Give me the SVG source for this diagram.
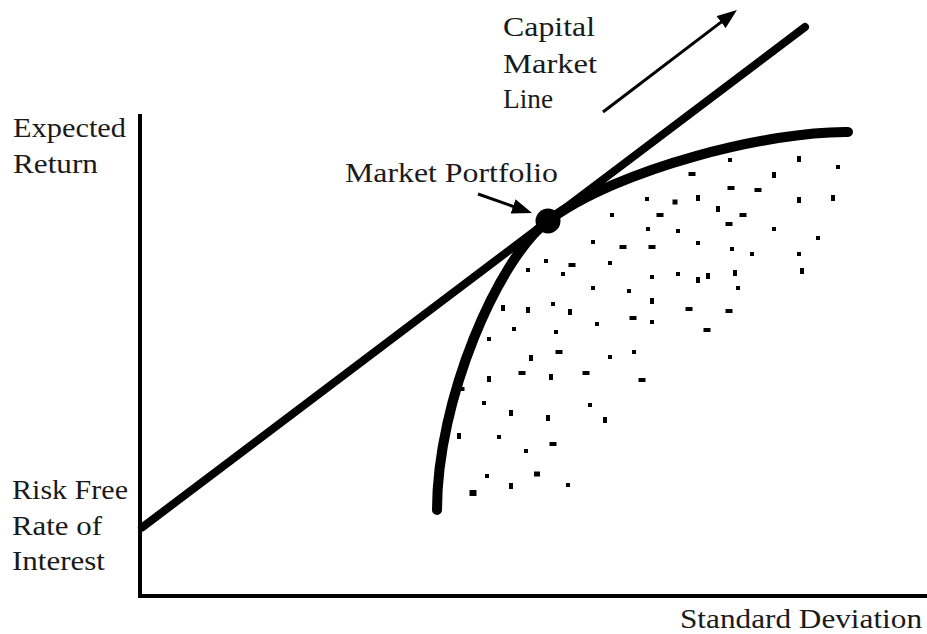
<svg xmlns="http://www.w3.org/2000/svg" width="927" height="634" viewBox="0 0 927 634">
<style>
.lbl{font-family:"Liberation Serif","DejaVu Serif",serif;font-size:27px;fill:#1a1a1a}
.ax{stroke:#000;stroke-width:4;fill:none}
.thick{stroke:#000;fill:none}
.arr{stroke:#000;stroke-width:3;fill:none}
.d{fill:#000}
</style>
<defs>
<marker id="ah" viewBox="0 0 20 15" refX="12" refY="7.5" markerWidth="20" markerHeight="15" markerUnits="userSpaceOnUse" orient="auto">
<path d="M0,0 L20,7.5 L0,15 z" fill="#000"/>
</marker>
</defs>
<rect width="927" height="634" fill="#fff"/>
<g id="axes">
<line class="ax" x1="140" y1="114" x2="140" y2="596"/>
<line class="ax" x1="138" y1="596" x2="927" y2="596"/>
</g>
<g id="connectors">
<line id="cml" class="thick" stroke-width="8" stroke-linecap="round" x1="142" y1="527.5" x2="805" y2="27"/>
<path id="frontier" class="thick" stroke-width="10" stroke-linecap="round" d="M437,510 C437,400 498,258.7 548,221 C618,168.2 770,131 848,132"/>
<line id="cml-arrow" class="arr" x1="603" y1="112" x2="730.6" y2="14.9" marker-end="url(#ah)"/>
<line id="mp-arrow" class="arr" x1="478" y1="194" x2="524.4" y2="210.3" marker-end="url(#ah)"/>
</g>
<g id="market-portfolio">
<circle cx="548" cy="221" r="12.5" fill="#000"/>
<text class="lbl" x="345" y="182" textLength="213" lengthAdjust="spacingAndGlyphs">Market Portfolio</text>
</g>
<g id="cml-label">
<text class="lbl" x="503" y="36" textLength="92" lengthAdjust="spacingAndGlyphs">Capital</text>
<text class="lbl" x="503" y="73" textLength="94" lengthAdjust="spacingAndGlyphs">Market</text>
<text class="lbl" x="503" y="108" textLength="50" lengthAdjust="spacingAndGlyphs">Line</text>
</g>
<g id="y-label">
<text class="lbl" x="13" y="137" textLength="113" lengthAdjust="spacingAndGlyphs">Expected</text>
<text class="lbl" x="13" y="173" textLength="85" lengthAdjust="spacingAndGlyphs">Return</text>
</g>
<g id="rf-label">
<text class="lbl" x="12" y="499" textLength="116" lengthAdjust="spacingAndGlyphs">Risk Free</text>
<text class="lbl" x="12" y="535" textLength="90" lengthAdjust="spacingAndGlyphs">Rate of</text>
<text class="lbl" x="12" y="570" textLength="93" lengthAdjust="spacingAndGlyphs">Interest</text>
</g>
<g id="x-label">
<text class="lbl" x="680" y="628" textLength="242" lengthAdjust="spacingAndGlyphs">Standard Deviation</text>
</g>
<g id="portfolios" class="d">
<rect x="728" y="158" width="4" height="4"/>
<rect x="797" y="156" width="4" height="6"/>
<rect x="836" y="165" width="4" height="4"/>
<rect x="688.5" y="172" width="7" height="4"/>
<rect x="772" y="172" width="4" height="6"/>
<rect x="727.5" y="186" width="7" height="4"/>
<rect x="754.5" y="188" width="7" height="4"/>
<rect x="645" y="197" width="4" height="4"/>
<rect x="672.5" y="199.5" width="5" height="5"/>
<rect x="696" y="195" width="4" height="6"/>
<rect x="797" y="197" width="4" height="6"/>
<rect x="831" y="195" width="4" height="6"/>
<rect x="716" y="206" width="4" height="6"/>
<rect x="656.5" y="213" width="7" height="4"/>
<rect x="739.5" y="213" width="7" height="4"/>
<rect x="725.5" y="222" width="7" height="4"/>
<rect x="646" y="227" width="4" height="4"/>
<rect x="676" y="229" width="4" height="4"/>
<rect x="772" y="227" width="4" height="4"/>
<rect x="816" y="236" width="4" height="4"/>
<rect x="696" y="241" width="4" height="4"/>
<rect x="648.5" y="245" width="7" height="4"/>
<rect x="730" y="247" width="4" height="4"/>
<rect x="750" y="252" width="4" height="4"/>
<rect x="797" y="252" width="4" height="4"/>
<rect x="650" y="275" width="4" height="4"/>
<rect x="676" y="272" width="4" height="4"/>
<rect x="696" y="277" width="4" height="6"/>
<rect x="706" y="273" width="4" height="6"/>
<rect x="733" y="270" width="4" height="6"/>
<rect x="800" y="268" width="4" height="6"/>
<rect x="736" y="286" width="4" height="4"/>
<rect x="650" y="298" width="4" height="6"/>
<rect x="685.5" y="307" width="7" height="4"/>
<rect x="725.5" y="309" width="7" height="4"/>
<rect x="650" y="320" width="4" height="4"/>
<rect x="703.5" y="328" width="7" height="4"/>
<rect x="610" y="213" width="4" height="4"/>
<rect x="591" y="240" width="4" height="4"/>
<rect x="619.5" y="245" width="7" height="4"/>
<rect x="544" y="259" width="4" height="4"/>
<rect x="568.5" y="263" width="7" height="4"/>
<rect x="608" y="261" width="4" height="4"/>
<rect x="526" y="268" width="4" height="4"/>
<rect x="561" y="272" width="4" height="4"/>
<rect x="591" y="286" width="4" height="4"/>
<rect x="627" y="289" width="4" height="4"/>
<rect x="501" y="305" width="4" height="6"/>
<rect x="526" y="307" width="4" height="6"/>
<rect x="551" y="302" width="4" height="4"/>
<rect x="568" y="309" width="4" height="6"/>
<rect x="595" y="322" width="4" height="4"/>
<rect x="629.5" y="316" width="7" height="4"/>
<rect x="512" y="327" width="4" height="4"/>
<rect x="487" y="337" width="4" height="4"/>
<rect x="554" y="330" width="4" height="4"/>
<rect x="529" y="355" width="4" height="6"/>
<rect x="555.5" y="350" width="7" height="4"/>
<rect x="608" y="355" width="4" height="4"/>
<rect x="632" y="350" width="4" height="4"/>
<rect x="487" y="376" width="4" height="6"/>
<rect x="518.5" y="371" width="7" height="4"/>
<rect x="549" y="374" width="4" height="6"/>
<rect x="582.5" y="371" width="7" height="4"/>
<rect x="638.5" y="378" width="7" height="4"/>
<rect x="457.5" y="387" width="7" height="4"/>
<rect x="482" y="401" width="4" height="4"/>
<rect x="509" y="410" width="4" height="6"/>
<rect x="546" y="415" width="4" height="6"/>
<rect x="588" y="403" width="4" height="4"/>
<rect x="603" y="417" width="4" height="6"/>
<rect x="457" y="433" width="4" height="6"/>
<rect x="497" y="435" width="4" height="4"/>
<rect x="524" y="449" width="4" height="4"/>
<rect x="549.5" y="442" width="7" height="4"/>
<rect x="485" y="474" width="4" height="4"/>
<rect x="534" y="471.5" width="6" height="5"/>
<rect x="509" y="483" width="4" height="6"/>
<rect x="566" y="483" width="4" height="4"/>
<rect x="469.5" y="490" width="7" height="6"/>
</g>
</svg>
